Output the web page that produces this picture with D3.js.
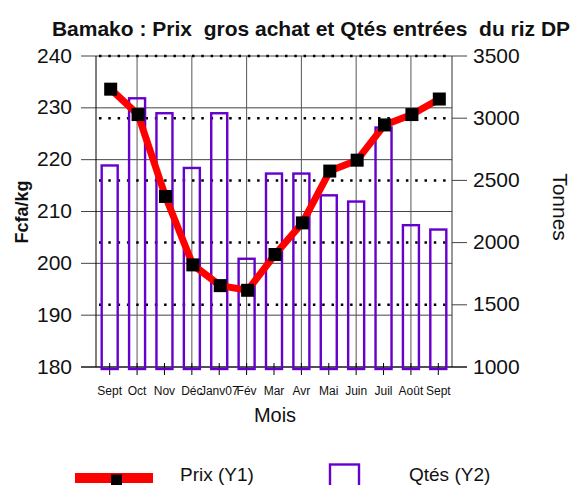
<!DOCTYPE html>
<html><head><meta charset="utf-8">
<script src="https://cdn.jsdelivr.net/npm/d3@7"></script>
<style>body{margin:0;background:#fff}svg{display:block}text{font-family:"Liberation Sans",Arial,sans-serif;white-space:pre}</style>
</head><body><svg id="c" width="575" height="485"></svg>
<script>
const months = ["Sept","Oct","Nov","Déc","Janv07","Fév","Mar","Avr","Mai","Juin","Juil","Août","Sept"];
const prix = [233.6, 228.7, 212.9, 199.7, 195.7, 194.8, 201.7, 207.8, 217.8, 219.9, 226.7, 228.7, 231.7];
const qtes = [2620, 3160, 3040, 2600, 3040, 1870, 2555, 2555, 2380, 2330, 2925, 2140, 2105];
const y1Ticks = [180, 190, 200, 210, 220, 230, 240];
const y2Ticks = [1000, 1500, 2000, 2500, 3000, 3500];
const title = "Bamako : Prix  gros achat et Qtés entrées  du riz DP";

const svg = d3.select("#c");
const L = 96, R = 452, T = 56, B = 367;
const idx = months.map((d, i) => i);
const x = d3.scaleBand().domain(idx).range([L, R]).paddingInner(0).paddingOuter(0);
const cx = i => x(i) + x.bandwidth() / 2;
const y1 = d3.scaleLinear().domain([180, 240]).range([B, T]);
const y2 = d3.scaleLinear().domain([1000, 3500]).range([B, T]);

// title
svg.append("text").attr("x", 311).attr("y", 36).attr("text-anchor", "middle")
  .attr("font-size", 21).attr("font-weight", "bold").attr("fill", "#111").text(title);

// horizontal solid grid (Y1) incl. outward ticks
svg.append("g").selectAll("line").data(y1Ticks).join("line")
  .attr("x1", 81).attr("x2", R).attr("y1", d => y1(d)).attr("y2", d => y1(d))
  .attr("stroke", "#444").attr("stroke-width", 1);
// vertical grid at every other category
svg.append("g").selectAll("line").data(idx.filter(i => i % 2 === 1)).join("line")
  .attr("x1", d => cx(d)).attr("x2", d => cx(d)).attr("y1", T).attr("y2", B)
  .attr("stroke", "#555").attr("stroke-width", 1);
// dotted grid (Y2)
svg.append("g").selectAll("line").data(y2Ticks.filter(d => d > 1000)).join("line")
  .attr("x1", L + 3).attr("x2", R - 3).attr("y1", d => y2(d)).attr("y2", d => y2(d))
  .attr("stroke", "#000").attr("stroke-width", 2.5).attr("stroke-dasharray", "2.5 6.8");
// right ticks
svg.append("g").selectAll("line").data(y2Ticks).join("line")
  .attr("x1", R).attr("x2", R + 15).attr("y1", d => y2(d)).attr("y2", d => y2(d))
  .attr("stroke", "#444").attr("stroke-width", 1);
// borders
svg.append("line").attr("x1", L).attr("x2", L).attr("y1", T).attr("y2", B).attr("stroke", "#000");
svg.append("line").attr("x1", R).attr("x2", R).attr("y1", T).attr("y2", B).attr("stroke", "#333");
svg.append("line").attr("x1", 81).attr("x2", R + 15).attr("y1", B).attr("y2", B).attr("stroke", "#000");
// x ticks
svg.append("g").selectAll("line").data(idx).join("line")
  .attr("x1", d => cx(d)).attr("x2", d => cx(d)).attr("y1", B - 4).attr("y2", B + 8)
  .attr("stroke", "#000");

// bars
const bw = 16;
svg.append("g").selectAll("rect").data(qtes).join("rect")
  .attr("x", (d, i) => cx(i) - bw / 2).attr("width", bw)
  .attr("y", d => y2(d)).attr("height", d => y2(1000) - y2(d) + 2)
  .attr("fill", "none").attr("stroke", "#6600cc").attr("stroke-width", 2.4);

// price line
svg.append("path").datum(prix)
  .attr("d", d3.line().x((d, i) => cx(i) + 1).y(d => y1(d)))
  .attr("fill", "none").attr("stroke", "#ff0000").attr("stroke-width", 7).attr("stroke-linejoin", "round");
const ms = 13;
svg.append("g").selectAll("rect").data(prix).join("rect")
  .attr("x", (d, i) => cx(i) + 1 - ms / 2).attr("y", d => y1(d) - ms / 2)
  .attr("width", ms).attr("height", ms).attr("fill", "#000");

// axis labels
svg.append("g").selectAll("text").data(y1Ticks).join("text")
  .attr("x", 72).attr("y", d => y1(d) + 6.5).attr("text-anchor", "end")
  .attr("font-size", 21).attr("fill", "#111").text(d => d);
svg.append("g").selectAll("text").data(y2Ticks).join("text")
  .attr("x", 473).attr("y", d => y2(d) + 6.5).attr("text-anchor", "start")
  .attr("font-size", 21).attr("fill", "#111").text(d => d);
svg.append("g").selectAll("text").data(months).join("text")
  .attr("x", (d, i) => cx(i)).attr("y", 395).attr("text-anchor", "middle")
  .attr("font-size", 12).attr("fill", "#111").text(d => d);
svg.append("text").attr("x", 275).attr("y", 421.5).attr("text-anchor", "middle")
  .attr("font-size", 20).attr("fill", "#111").text("Mois");
svg.append("text").attr("transform", "translate(22,212) rotate(-90)")
  .attr("text-anchor", "middle").attr("dominant-baseline", "central")
  .attr("font-size", 18).attr("font-weight", "bold").attr("fill", "#111").text("Fcfa/kg");
svg.append("text").attr("transform", "translate(560,207) rotate(90)")
  .attr("text-anchor", "middle").attr("dominant-baseline", "central")
  .attr("font-size", 21).attr("fill", "#111").text("Tonnes");

// legend
svg.append("line").attr("x1", 75).attr("x2", 153).attr("y1", 478).attr("y2", 478)
  .attr("stroke", "#ff0000").attr("stroke-width", 10);
svg.append("rect").attr("x", 111).attr("y", 474.5).attr("width", 11).attr("height", 11).attr("fill", "#000");
svg.append("text").attr("x", 180).attr("y", 481).attr("font-size", 19).attr("fill", "#111").text("Prix (Y1)");
svg.append("rect").attr("x", 330).attr("y", 464.5).attr("width", 29).attr("height", 30)
  .attr("fill", "none").attr("stroke", "#6600cc").attr("stroke-width", 2.4);
svg.append("text").attr("x", 409).attr("y", 481).attr("font-size", 19).attr("fill", "#111").text("Qtés (Y2)");
</script></body></html>
